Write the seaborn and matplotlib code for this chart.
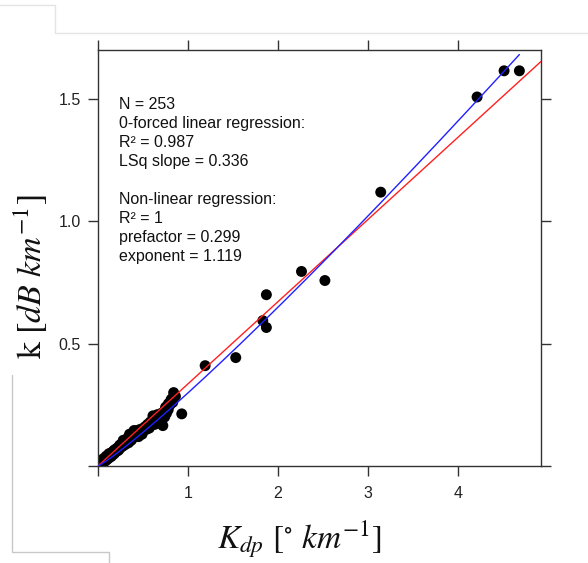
import numpy as np
import pandas as pd
import matplotlib
matplotlib.use("Agg")
import matplotlib.pyplot as plt
import seaborn as sns
from matplotlib.lines import Line2D

# ---- data ----
kdp = [0.01, 0.02, 0.03, 0.04, 0.05, 0.06, 0.07, 0.08, 0.09, 0.10, 0.11, 0.12, 0.13, 0.14, 0.15,
       0.16, 0.17, 0.18, 0.19, 0.20, 0.03, 0.06, 0.09, 0.12, 0.15, 0.18, 0.21, 0.22, 0.23, 0.24,
       0.25, 0.26, 0.27, 0.28, 0.29, 0.30, 0.31, 0.32, 0.33, 0.34, 0.35, 0.36, 0.37, 0.38, 0.39,
       0.40, 0.41, 0.42, 0.43, 0.44, 0.45, 0.46, 0.47, 0.48, 0.49, 0.50, 0.28, 0.35, 0.40, 0.45,
       0.52, 0.54, 0.55, 0.57, 0.58, 0.60, 0.61, 0.62, 0.63, 0.65, 0.66, 0.68, 0.70, 0.72, 0.73,
       0.74, 0.75, 0.76, 0.78, 0.80, 0.81, 0.82, 0.84, 0.83, 0.86, 0.71, 0.78,
       0.93, 1.19, 1.53, 1.83, 1.87, 1.87, 2.26, 2.52, 3.14, 4.21, 4.51, 4.68]
k = [0.003, 0.006, 0.012, 0.010, 0.018, 0.015, 0.025, 0.020, 0.030, 0.026, 0.040, 0.032, 0.045, 0.038, 0.055,
     0.045, 0.060, 0.050, 0.058, 0.070, 0.020, 0.030, 0.040, 0.050, 0.040, 0.065, 0.060, 0.075, 0.065, 0.085,
     0.075, 0.090, 0.080, 0.095, 0.085, 0.105, 0.090, 0.100, 0.115, 0.095, 0.110, 0.120, 0.105, 0.130, 0.115,
     0.120, 0.140, 0.125, 0.145, 0.130, 0.140, 0.125, 0.150, 0.135, 0.130, 0.145, 0.105, 0.130, 0.145, 0.120,
     0.160, 0.150, 0.170, 0.155, 0.180, 0.170, 0.205, 0.190, 0.170, 0.185, 0.210, 0.200, 0.190, 0.165, 0.210,
     0.200, 0.240, 0.215, 0.230, 0.250, 0.270, 0.275, 0.300, 0.260, 0.285, 0.217, 0.254,
     0.213, 0.410, 0.443, 0.594, 0.566, 0.700, 0.795, 0.758, 1.119, 1.508, 1.615, 1.615]

n_obs = 253
r2_lin = 0.987
lsq_slope = 0.336
r2_nl = 1
prefactor = 0.299
exponent = 1.119

x_ticks = [0, 1, 2, 3, 4]
x_ticklabels = ["", "1", "2", "3", "4"]
y_ticks = [0, 0.5, 1.0, 1.5]
y_ticklabels = ["", "0.5", "1.0", "1.5"]
xlim = (0, 4.92)
ylim = (0, 1.70)

df = pd.DataFrame({"kdp": kdp, "k": k})

sns.set_theme(style="white")
plt.rcParams["font.family"] = ["Liberation Sans", "DejaVu Sans"]
plt.rcParams["mathtext.fontset"] = "stix"

fig = plt.figure(figsize=(5.88, 5.63), dpi=100)
ax = fig.add_axes([98 / 588, 1 - 466 / 563, 443 / 588, 416 / 563])

# regression curves
xl = np.linspace(xlim[0], xlim[1], 200)
xn = np.linspace(0, max(kdp), 200)
ax.plot(xl, lsq_slope * xl, color="#ff2020", lw=1.0, zorder=3)
ax.plot(xn, prefactor * xn ** exponent, color="#2020ff", lw=1.0, zorder=3)

sns.scatterplot(data=df, x="kdp", y="k", ax=ax, color="black", s=62,
                edgecolor="none", linewidth=0, zorder=2, legend=False)

ax.set_xlim(*xlim)
ax.set_ylim(*ylim)
ax.set_xticks(x_ticks)
ax.set_xticklabels(x_ticklabels)
ax.set_yticks(y_ticks)
ax.set_yticklabels(y_ticklabels)
ax.set_xlabel("")
ax.set_ylabel("")

for sp in ax.spines.values():
    sp.set_visible(True)
    sp.set_color("#333333")
    sp.set_linewidth(1.0)

ax.tick_params(axis="both", which="both", direction="out", length=7.5, width=1.0,
               color="#333333", labelsize=11.5, labelcolor="#222222",
               top=True, right=True, bottom=True, left=True,
               labeltop=False, labelright=False)
ax.tick_params(axis="x", pad=7)
ax.tick_params(axis="y", pad=5)

txt = (f"N = {n_obs}\n0-forced linear regression:\nR\u00b2 = {r2_lin}\nLSq slope = {lsq_slope}\n\n"
       f"Non-linear regression:\nR\u00b2 = {r2_nl}\nprefactor = {prefactor}\nexponent = {exponent}")
ax.text(0.048, 0.887, txt, transform=ax.transAxes, ha="left", va="top",
        fontsize=11.5, linespacing=1.33, color="#111111")

fig.text(31 / 588, 1 - 277 / 563, r"k $[dB\ km^{-1}]$", rotation=90, ha="center", va="center",
         fontsize=24.5, family="STIXGeneral", color="#111111")
fig.text(299 / 588, 1 - 539 / 563, r"$K_{dp}\ [^{\circ}\ km^{-1}]$", ha="center", va="center",
         fontsize=24, family="STIXGeneral", color="#111111")

# light frame lines of the original screenshot
g1 = "#e4e4e4"
g2 = "#c8c8c8"
def fline(xs, ys, c):
    fig.add_artist(Line2D([x / 588 for x in xs], [1 - y / 563 for y in ys],
                          color=c, lw=1.0, transform=fig.transFigure))
fline([0, 55, 55, 588], [5, 5, 33, 33], g1)
fline([12, 12, 109, 109], [375, 552, 552, 563], g2)

fig.savefig("out.png", dpi=100)
